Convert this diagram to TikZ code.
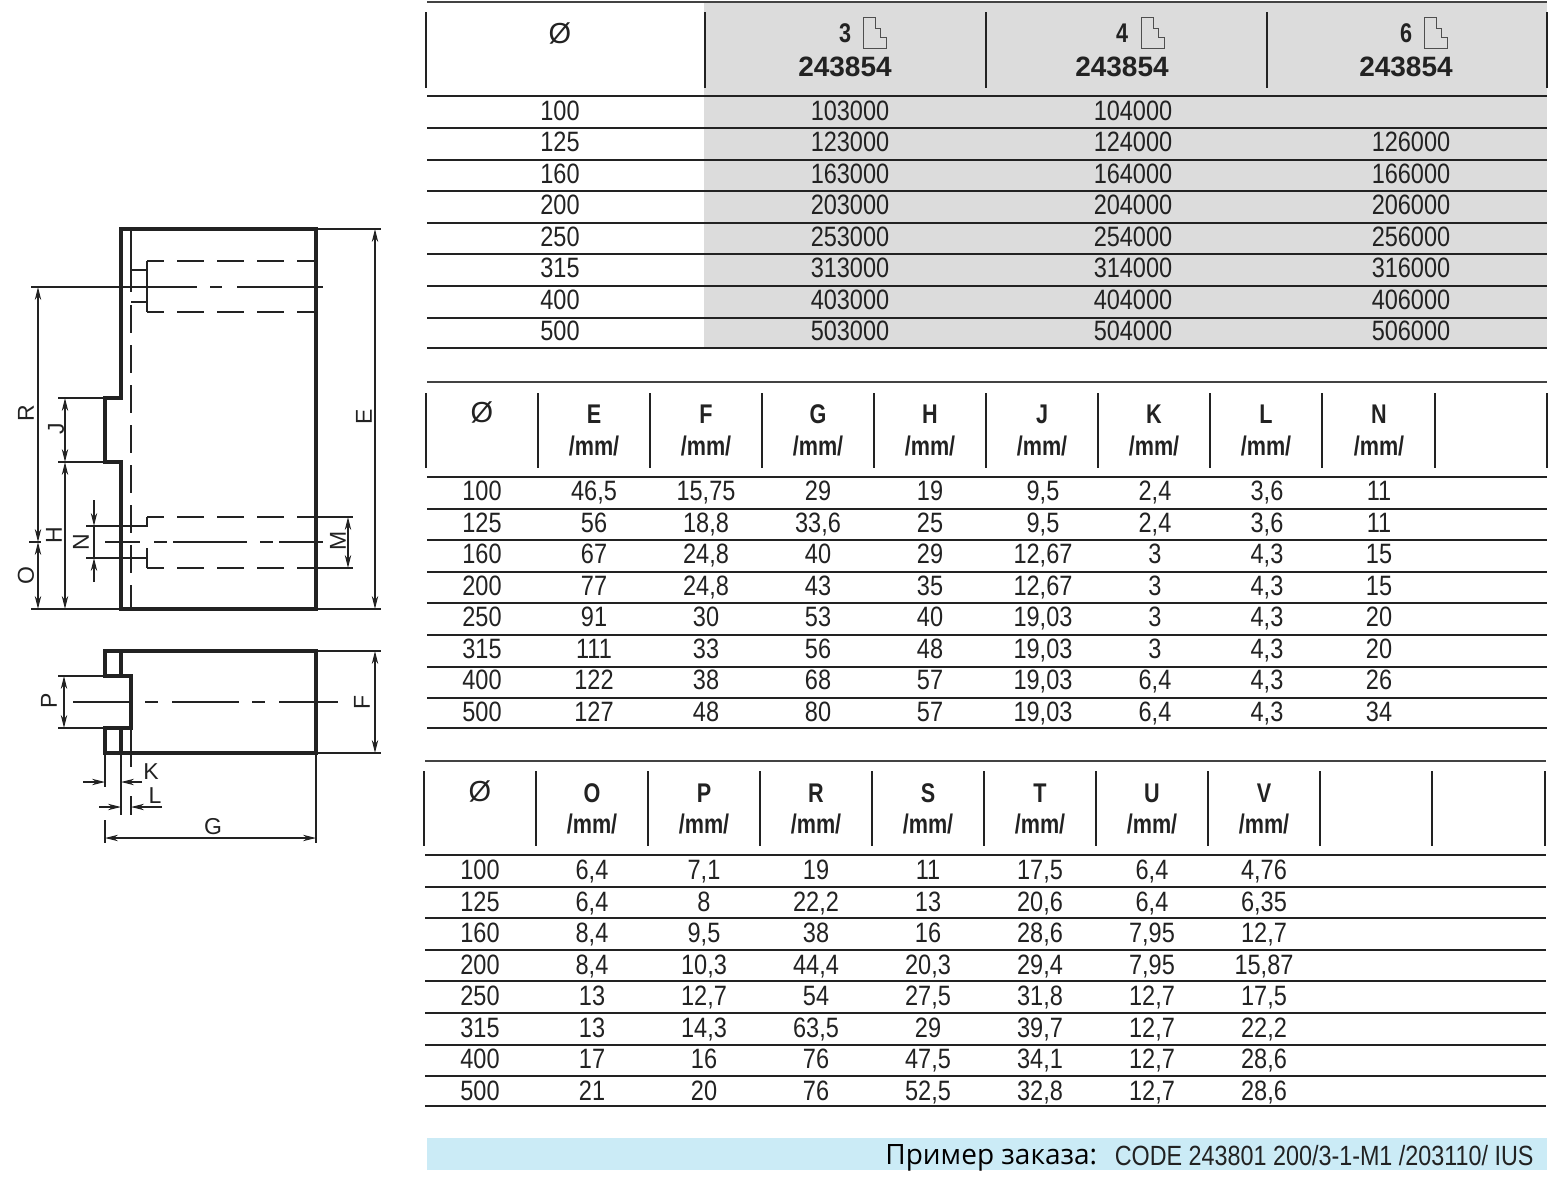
\documentclass[tikz,border=0pt]{standalone}
\usepackage{fontspec}
\setmainfont{Liberation Sans}
\newfontfamily\narrowfont[FakeStretch=0.84]{Liberation Sans}
\newfontfamily\narrowbold[FakeStretch=0.8]{Liberation Sans}
\newfontfamily\orderfont{Open Sans}
\usetikzlibrary{arrows.meta}
\definecolor{cellgray}{HTML}{DCDCDC}
\definecolor{orderblue}{HTML}{CBEBF6}
\definecolor{inkline}{HTML}{222222}
\tikzset{
    x=0.5pt, y=-0.5pt,
    cell/.style = {anchor=base, inner sep=0pt, text=inkline, font=\narrowfont\fontsize{14}{14}\selectfont},
    headcell/.style = {anchor=base, inner sep=0pt, text=inkline, font=\narrowbold\bfseries\fontsize{13.5}{13.5}\selectfont},
    codecell/.style = {anchor=base, inner sep=0pt, text=inkline, font=\bfseries\fontsize{14}{14}\selectfont},
    diacell/.style = {anchor=center, inner sep=0pt, text=inkline, font=\fontsize{14.5}{14.5}\selectfont},
    rowline/.style = {draw=inkline, line width=0.65pt},
    toprule/.style = {draw=inkline!85, line width=0.95pt},
    headtick/.style = {draw=inkline, line width=0.85pt},
    outline/.style = {draw=inkline, line width=1.6pt, line join=miter},
    thinline/.style = {draw=inkline, line width=0.55pt},
    hidden/.style = {thinline, dash pattern=on 13.5pt off 6.5pt, dash phase=5pt},
    dimline/.style = {thinline, {Stealth[length=6.5pt,width=3.2pt]}-{Stealth[length=6.5pt,width=3.2pt]}},
    dimto/.style = {thinline, -{Stealth[length=6.5pt,width=3.2pt]}},
    dimlabel/.style = {anchor=center, inner sep=0pt, text=inkline, font=\fontsize{11.5}{11.5}\selectfont},
    stairicon/.pic = {\draw[draw=inkline!80, line width=0.45pt] (-11,-15.5) -- (1,-15.5) -- (1,-4.5) -- (6,-4.5) -- (6,4.5) -- (12,4.5) -- (12,15.5) -- (-11,15.5) -- cycle;},
}
\begin{document}
\begin{tikzpicture}
\useasboundingbox (0,0) rectangle (1549,1200);
\fill[cellgray] (704,2) rectangle (1547,348);
\fill[orderblue] (427,1138) rectangle (1547,1170);

\draw[toprule] (427,2) -- (1547,2);
\foreach \yy in {96,128,160,191,223,254,286,318,348}
    \draw[rowline] (427,\yy) -- (1547,\yy);
\foreach \xx in {426,705,986,1267,1547}
    \draw[headtick] (\xx,12) -- (\xx,88);
\node[diacell] (dia1) at (560,33) {Ø};
\foreach \xx/\num/\icon in {845/3/874, 1122/4/1152, 1406/6/1435} {
    \node[headcell] (n\num) at (\xx,42.5) {\num};
    \pic at (\icon,33) {stairicon};
    \node[codecell] (c\num) at (\xx,76) {243854};
}
\foreach \dia/\va/\vb/\vc [count=\i from 0] in {
    100/103000/104000/,125/123000/124000/126000,160/163000/164000/166000,
    200/203000/204000/206000,250/253000/254000/256000,315/313000/314000/316000,
    400/403000/404000/406000,500/503000/504000/506000} {
    \pgfmathsetmacro{\yy}{120+31.5*\i}
    \node[cell] (a\i) at (560,\yy) {\dia};
    \node[cell] (b\i) at (850,\yy) {\va};
    \node[cell] (d\i) at (1133,\yy) {\vb};
    \node[cell] (e\i) at (1411,\yy) {\vc};
}

\draw[toprule] (427,382) -- (1547,382);
\foreach \yy in {477,509,540,572,603,635,667,698,728}
    \draw[rowline] (427,\yy) -- (1547,\yy);
\foreach \xx in {426,538,650,762,874,986,1098,1210,1322,1435,1547}
    \draw[headtick] (\xx,393) -- (\xx,468);
\node[diacell] (dia2) at (482,412) {Ø};
\foreach \xx/\name in {594/E,706/F,818/G,930/H,1042/J,1154/K,1266/L,1379/N} {
    \node[headcell] (h\name) at (\xx,423.5) {\name};
    \node[headcell] (u\name) at (\xx,455.5) {/mm/};
}
\foreach \dia/\ve/\vf/\vg/\vh/\vj/\vk/\vl/\vn [count=\i from 0] in {
    100/{46,5}/{15,75}/29/19/{9,5}/{2,4}/{3,6}/11,
    125/56/{18,8}/{33,6}/25/{9,5}/{2,4}/{3,6}/11,
    160/67/{24,8}/40/29/{12,67}/3/{4,3}/15,
    200/77/{24,8}/43/35/{12,67}/3/{4,3}/15,
    250/91/30/53/40/{19,03}/3/{4,3}/20,
    315/111/33/56/48/{19,03}/3/{4,3}/20,
    400/122/38/68/57/{19,03}/{6,4}/{4,3}/26,
    500/127/48/80/57/{19,03}/{6,4}/{4,3}/34} {
    \pgfmathsetmacro{\yy}{500.5+31.5*\i}
    \node[cell] at (482,\yy) {\dia};
    \node[cell] at (594,\yy) {\ve};
    \node[cell] at (706,\yy) {\vf};
    \node[cell] at (818,\yy) {\vg};
    \node[cell] at (930,\yy) {\vh};
    \node[cell] at (1043,\yy) {\vj};
    \node[cell] at (1155,\yy) {\vk};
    \node[cell] at (1267,\yy) {\vl};
    \node[cell] at (1379,\yy) {\vn};
}

\draw[toprule] (425,761) -- (1546,761);
\foreach \yy in {855,887,918,950,981,1013,1045,1076,1106}
    \draw[rowline] (425,\yy) -- (1546,\yy);
\foreach \xx in {424,536,648,760,872,984,1096,1208,1320,1432,1545}
    \draw[headtick] (\xx,771) -- (\xx,846);
\node[diacell] (dia3) at (480,791) {Ø};
\foreach \xx/\name in {592/O,704/P,816/R,928/S,1040/T,1152/U,1264/V} {
    \node[headcell] (h\name) at (\xx,802) {\name};
    \node[headcell] (u\name) at (\xx,833.5) {/mm/};
}
\foreach \dia/\vo/\vp/\vr/\vs/\vt/\vu/\vv [count=\i from 0] in {
    100/{6,4}/{7,1}/19/11/{17,5}/{6,4}/{4,76},
    125/{6,4}/8/{22,2}/13/{20,6}/{6,4}/{6,35},
    160/{8,4}/{9,5}/38/16/{28,6}/{7,95}/{12,7},
    200/{8,4}/{10,3}/{44,4}/{20,3}/{29,4}/{7,95}/{15,87},
    250/13/{12,7}/54/{27,5}/{31,8}/{12,7}/{17,5},
    315/13/{14,3}/{63,5}/29/{39,7}/{12,7}/{22,2},
    400/17/16/76/{47,5}/{34,1}/{12,7}/{28,6},
    500/21/20/76/{52,5}/{32,8}/{12,7}/{28,6}} {
    \pgfmathsetmacro{\yy}{879.5+31.5*\i}
    \node[cell] at (480,\yy) {\dia};
    \node[cell] at (592,\yy) {\vo};
    \node[cell] at (704,\yy) {\vp};
    \node[cell] at (816,\yy) {\vr};
    \node[cell] at (928,\yy) {\vs};
    \node[cell] at (1040,\yy) {\vt};
    \node[cell] at (1152,\yy) {\vu};
    \node[cell] at (1264,\yy) {\vv};
}

\node[anchor=base west, inner sep=0pt, font=\orderfont\fontsize{14}{14}\selectfont] (orderlabel) at (885,1164) {Пример заказа:};
\node[cell, anchor=base east, font=\narrowfont\fontsize{13.9}{13.9}\selectfont] (ordercode) at (1534,1165) {CODE 243801 200/3-1-M1 /203110/ IUS};

\draw[thinline] (131,229) -- (131,292);
\draw[thinline, dash pattern=on 14pt off 6pt] (131,305) -- (131,609);
\draw[outline] (121,229) -- (316,229) -- (316,609) -- (121,609) -- (121,462) -- (105,462) -- (105,398) -- (121,398) -- cycle;
\draw[hidden] (147,261) -- (316,261);
\draw[hidden] (147,312) -- (316,312);
\draw[thinline] (147,261) -- (147,312);
\draw[thinline] (131,270) -- (147,270);
\draw[thinline] (131,302) -- (147,302);
\draw[thinline, dash pattern=on 83pt off 6.5pt on 6pt off 7.5pt] (31,287) -- (323,287);
\draw[hidden] (147,517) -- (316,517);
\draw[hidden] (147,568) -- (316,568);
\draw[thinline] (147,517) -- (147,526) -- (86,526);
\draw[thinline] (147,568) -- (147,548);
\draw[thinline] (147,558) -- (86,558);
\draw[thinline] (105,542) -- (140,542);
\draw[thinline, dash pattern=on 6.5pt off 3pt on 37pt off 6.5pt] (154,542) -- (323,542);
\draw[thinline] (29,542) -- (41,542);
\draw[thinline] (316,229) -- (381,229);
\draw[thinline] (316,609) -- (381,609);
\draw[thinline] (31,609) -- (121,609);
\draw[thinline] (58,398) -- (105,398);
\draw[thinline] (58,462) -- (105,462);
\draw[thinline] (316,517) -- (353,517);
\draw[thinline] (316,568) -- (353,568);
\draw[dimline] (38,287) -- (38,542);
\draw[dimline] (38,542) -- (38,609);
\draw[dimline] (65,398) -- (65,462);
\draw[dimline] (65,462) -- (65,609);
\draw[dimto] (94,500) -- (94,526);
\draw[dimto] (94,582) -- (94,558);
\draw[thinline] (94,526) -- (94,558);
\draw[dimline] (348,517) -- (348,568);
\draw[dimline] (375,229) -- (375,609);
\node[dimlabel, rotate=90] (labelR) at (26,413) {R};
\node[dimlabel, rotate=90] (labelJ) at (56,429) {J};
\node[dimlabel, rotate=90] (labelH) at (54,535) {H};
\node[dimlabel, rotate=90] (labelN) at (81,542) {N};
\node[dimlabel, rotate=90] (labelO) at (26,576) {O};
\node[dimlabel, rotate=90] (labelM) at (338,541) {M};
\node[dimlabel, rotate=90] (labelE) at (364,417) {E};

\draw[outline] (105,676) -- (105,651) -- (316,651) -- (316,753) -- (105,753) -- (105,728) -- (131,728) -- (131,676) -- cycle;
\draw[outline] (121,651) -- (121,676);
\draw[outline] (121,728) -- (121,753);
\draw[thinline] (58,676) -- (105,676);
\draw[thinline] (58,728) -- (105,728);
\draw[dimline] (64,676) -- (64,728);
\draw[thinline] (73,702) -- (131,702);
\draw[thinline, dash pattern=on 6.5pt off 7pt on 33.5pt off 6.5pt] (145,702) -- (338,702);
\draw[thinline] (316,651) -- (381,651);
\draw[thinline] (316,753) -- (381,753);
\draw[dimline] (375,651) -- (375,753);
\draw[thinline] (105,753) -- (105,787);
\draw[thinline] (121,753) -- (121,815);
\draw[thinline] (131,728) -- (131,767);
\draw[thinline] (131,796) -- (131,815);
\draw[dimto] (83,782) -- (105,782);
\draw[dimto] (142,782) -- (121,782);
\draw[dimto] (99,807) -- (121,807);
\draw[dimto] (162,807) -- (131,807);
\draw[thinline] (105,820) -- (105,843);
\draw[thinline] (316,753) -- (316,843);
\draw[dimline] (105,838) -- (316,838);
\node[dimlabel, rotate=90] (labelP) at (49,701) {P};
\node[dimlabel, rotate=90] (labelF) at (362,702) {F};
\node[dimlabel] (labelK) at (151,772) {K};
\node[dimlabel] (labelL) at (155,796) {L};
\node[dimlabel] (labelG) at (213,827) {G};
\end{tikzpicture}
\end{document}
